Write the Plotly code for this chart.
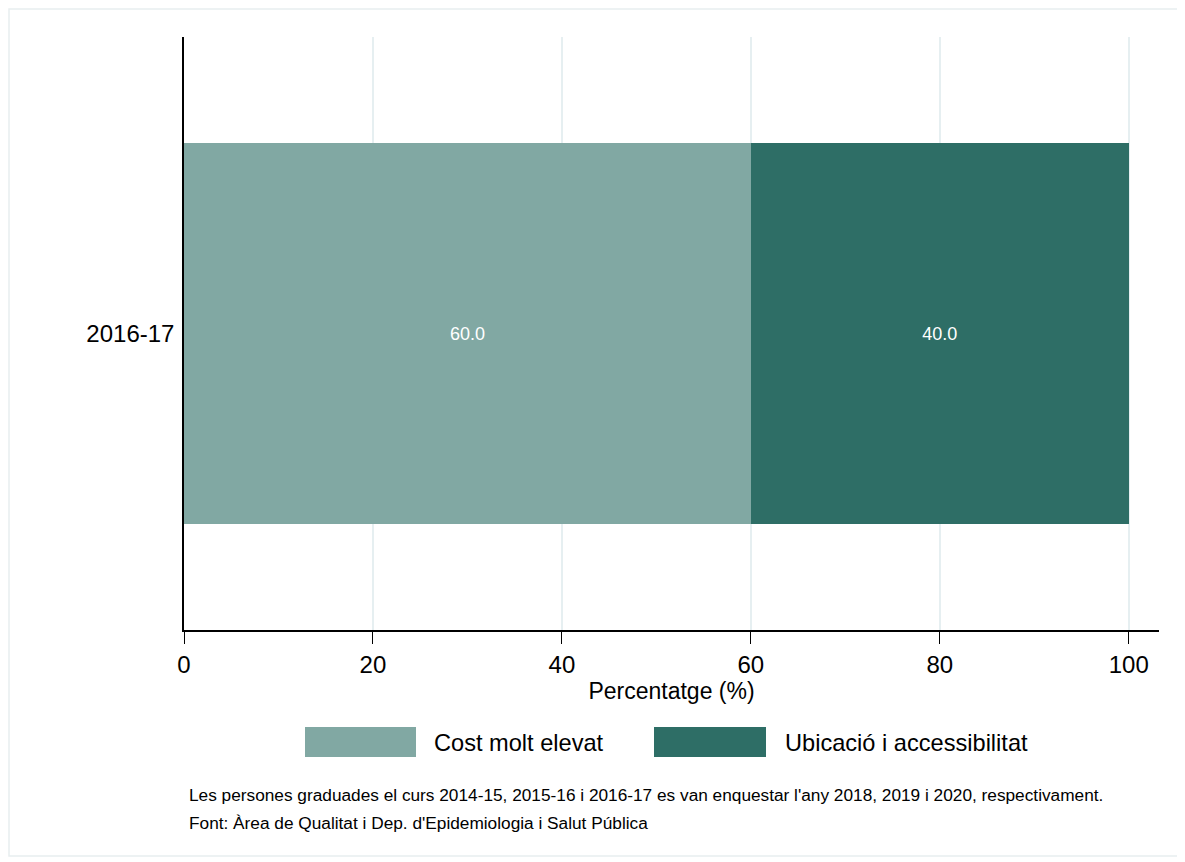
import plotly.graph_objects as go

categories = ["2016-17"]
series_names = ["Cost molt elevat", "Ubicació i accessibilitat"]
values_cost = [60.0]
values_ubic = [40.0]
series_values = [values_cost, values_ubic]
colors = ["#81A8A3", "#2E6E66"]
x_ticks = [0, 20, 40, 60, 80, 100]
note1 = "Les persones graduades el curs 2014-15, 2015-16 i 2016-17 es van enquestar l'any 2018, 2019 i 2020, respectivament."
note2 = "Font: Àrea de Qualitat i Dep. d'Epidemiologia i Salut Pública"

W, H = 1185, 862
OFF = 8  # page body margin offset
# target plot area in screen pixels
SL, SR, ST, SB = 184, 1159, 37, 630
L = SL - OFF
T = ST - OFF
PW = SR - SL
PH = SB - ST
R = W - L - PW
B = H - T - PH


def px(x):
    return (x - SL) / PW


def py(y):
    return (SB - y) / PH


FONT = "Liberation Sans, Arial, sans-serif"

fig = go.Figure()
for name, vals, col in zip(series_names, series_values, colors):
    fig.add_trace(go.Bar(
        y=categories, x=vals, name=name, orientation="h",
        marker=dict(color=col, line=dict(width=0)),
        text=[f"{v:.1f}" for v in vals], textposition="inside",
        insidetextanchor="middle", textangle=0,
        textfont=dict(color="white", size=18, family=FONT),
        width=0.642, showlegend=False,
    ))

shapes = []
annotations = []
# outer border
shapes.append(dict(type="rect", xref="paper", yref="paper",
                   x0=px(9), x1=px(1179), y0=py(856), y1=py(9),
                   line=dict(color="#E8EEF0", width=1.5), layer="below"))
# custom legend
leg = [(305, 416, 432), (654, 766, 783)]
for (bx0, bx1, tx), name, col in zip(leg, series_names, colors):
    shapes.append(dict(type="rect", xref="paper", yref="paper",
                       x0=px(bx0), x1=px(bx1), y0=py(757), y1=py(727),
                       fillcolor=col, line=dict(width=0)))
    annotations.append(dict(xref="paper", yref="paper", x=px(tx), y=py(743),
                            text=name, showarrow=False, xanchor="left", yanchor="middle",
                            font=dict(size=23.6, color="black", family=FONT)))
for txt, yy in [(note1, 795), (note2, 823)]:
    annotations.append(dict(xref="paper", yref="paper", x=px(187), y=py(yy),
                            text=txt, showarrow=False, xanchor="left", yanchor="middle",
                            font=dict(size=17.25, color="black", family=FONT)))

fig.update_layout(
    width=W, height=H,
    margin=dict(l=L, r=R, t=T, b=B, pad=0),
    barmode="stack",
    paper_bgcolor="white", plot_bgcolor="white",
    font=dict(family=FONT, color="black"),
    shapes=shapes, annotations=annotations,
    showlegend=False,
    xaxis=dict(range=[0, 103.2], tickvals=x_ticks, ticks="outside", ticklen=12,
               tickcolor="black", tickwidth=1.2,
               showline=True, linecolor="black", linewidth=1.5,
               showgrid=True, gridcolor="#E6EFF1", gridwidth=2, zeroline=False,
               tickfont=dict(size=24, family=FONT),
               title=dict(text="Percentatge (%)", font=dict(size=23, family=FONT), standoff=2)),
    yaxis=dict(range=[-0.5, 0.5], showline=True, linecolor="black", linewidth=1.5,
               ticks="", showgrid=False, zeroline=False,
               tickfont=dict(size=24, family=FONT), ticklabelstandoff=3),
)

fig.write_html("out.html")
